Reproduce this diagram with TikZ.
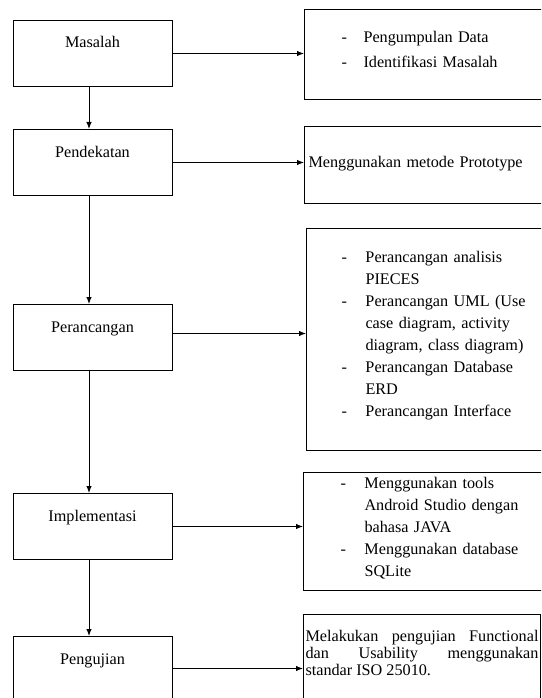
\documentclass[tikz,border=0pt]{standalone}
\usepackage{fontspec}
\setmainfont{Liberation Serif}
\usepackage{tikz}
\usetikzlibrary{positioning,arrows.meta}

\begin{document}
\begin{tikzpicture}[x=1pt,y=-1pt,->,>={Latex[length=7pt,width=5.5pt]},line width=1pt,
		font=\fontsize{16.2}{22}\selectfont,
		stage/.style={draw,rectangle,minimum width=159pt,inner ysep=0pt,text height=27.5pt,text depth=38.5pt},
		info/.style={draw,rectangle,anchor=north west,inner ysep=0pt,text width=200pt}]
			\clip (0,0) rectangle (541,698);
			\node[stage,anchor=north] (masalah) at (92.5,20) {Masalah};
			\node[stage] (pendekatan) [below=42pt of masalah] {Pendekatan};
			\node[stage] (perancangan) [below=108pt of pendekatan] {Perancangan};
			\node[stage] (implementasi) [below=122pt of perancangan] {Implementasi};
			\node[stage] (pengujian) [below=76pt of implementasi] {Pengujian};

			\node[info,inner xsep=37pt,text height=33.5pt,text depth=56.5pt] (data) at (304,9)
				{\renewcommand{\arraystretch}{1.1}\begin{tabular}[t]{@{}p{22pt}@{}l@{}}
				-&Pengumpulan Data\\
				-&Identifikasi Masalah
				\end{tabular}};
			\node[info,inner xsep=4pt,text width=250pt,text height=41pt,text depth=36pt] (prototype) at (304,126)
				{Menggunakan metode Prototype};
			\node[info,inner xsep=35pt,text height=34pt,text depth=188pt] (pieces) at (306,228)
				{\begin{tabular}[t]{@{}p{24pt}@{}l@{}}
				-&Perancangan analisis\\
				&PIECES\\
				-&Perancangan UML (Use\\
				&case diagram, activity\\
				&diagram, class diagram)\\
				-&Perancangan Database\\
				&ERD\\
				-&Perancangan Interface
				\end{tabular}};
			\node[info,inner xsep=37pt,text height=16pt,text depth=102pt] (tools) at (303,472)
				{\begin{tabular}[t]{@{}p{24pt}@{}l@{}}
				-&Menggunakan tools\\
				&Android Studio dengan\\
				&bahasa JAVA\\
				-&Menggunakan database\\
				&SQLite
				\end{tabular}};
			\node[info,inner xsep=2pt,text width=233pt,text height=27pt,text depth=100pt,align=justify,
				font=\fontsize{16.2}{17}\selectfont] (uji) at (303,614)
				{\tolerance=10000 Melakukan pengujian Functional\linebreak
				dan Usability menggunakan\linebreak
				standar ISO 25010.};

			\draw ([xshift=-3.5pt]masalah.south) -- ([xshift=-3.5pt]pendekatan.north);
			\draw ([xshift=-3.5pt]pendekatan.south) -- ([xshift=-3.5pt]perancangan.north);
			\draw ([xshift=-3.5pt]perancangan.south) -- ([xshift=-3.5pt]implementasi.north);
			\draw ([xshift=-3.5pt]implementasi.south) -- ([xshift=-3.5pt]pengujian.north);

			\draw (masalah.east) -- (masalah.east -| data.west);
			\draw (pendekatan.east) -- (pendekatan.east -| prototype.west);
			\draw ([yshift=4pt]perancangan.east) -- ([yshift=4pt]perancangan.east -| pieces.west);
			\draw (implementasi.east) -- (implementasi.east -| tools.west);
			\draw ([yshift=1pt]pengujian.east) -- ([yshift=1pt]pengujian.east -| uji.west);
\end{tikzpicture}
\end{document}
